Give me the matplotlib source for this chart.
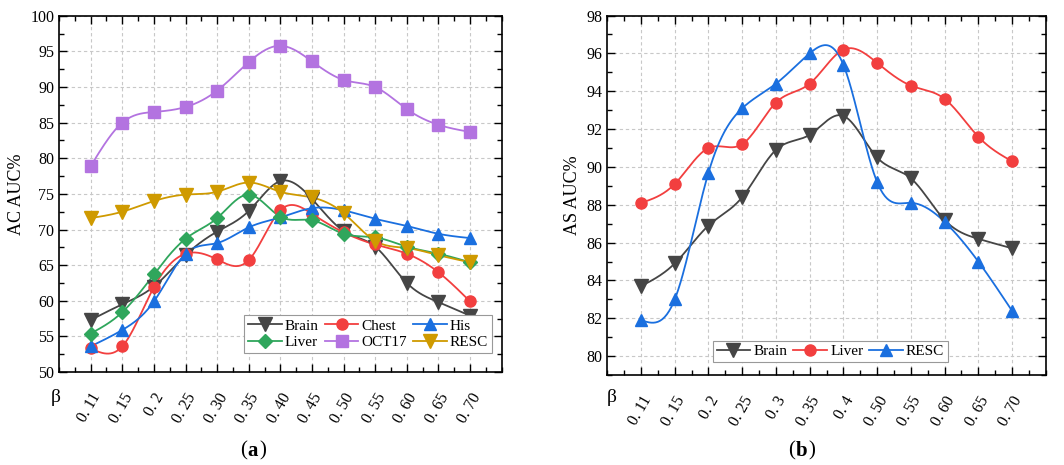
import numpy as np
import matplotlib.pyplot as plt
from matplotlib.ticker import MultipleLocator
from matplotlib.transforms import ScaledTranslation

plt.rcParams['font.family'] = ['Liberation Serif', 'DejaVu Serif']

# ---- panel (a) data ----
beta_a = ["0. 11", "0. 15", "0. 2", "0. 25", "0. 30", "0. 35", "0. 40",
          "0. 45", "0. 50", "0. 55", "0. 60", "0. 65", "0. 70"]
brain_a = [57.3, 59.5, 62.0, 66.4, 69.7, 72.6, 76.8, 74.3, 69.8, 67.6, 62.5, 59.8, 57.9]
chest_a = [53.3, 53.6, 61.9, 66.6, 65.8, 65.7, 72.7, 72.2, 69.6, 67.9, 66.6, 64.0, 59.9]
his_a = [53.6, 55.9, 59.9, 66.6, 68.1, 70.3, 71.7, 73.0, 72.7, 71.5, 70.5, 69.4, 68.8]
liver_a = [55.4, 58.4, 63.7, 68.7, 71.6, 74.9, 71.8, 71.3, 69.4, 68.9, 67.6, 66.6, 65.4]
oct17_a = [78.9, 85.0, 86.5, 87.2, 89.5, 93.5, 95.8, 93.6, 91.0, 90.0, 86.9, 84.7, 83.7]
resc_a = [71.6, 72.5, 74.0, 74.9, 75.3, 76.6, 75.3, 74.5, 72.3, 68.4, 67.4, 66.4, 65.4]

# ---- panel (b) data ----
beta_b = ["0. 11", "0. 15", "0. 2", "0. 25", "0. 3", "0. 35", "0. 4",
          "0. 50", "0. 55", "0. 60", "0. 65", "0. 70"]
brain_b = [83.7, 84.9, 86.9, 88.4, 90.9, 91.7, 92.7, 90.5, 89.4, 87.2, 86.2, 85.7]
liver_b = [88.1, 89.1, 91.0, 91.2, 93.4, 94.4, 96.2, 95.5, 94.3, 93.6, 91.6, 90.3]
resc_b = [81.9, 83.0, 89.7, 93.1, 94.4, 96.0, 95.4, 89.2, 88.1, 87.1, 85.0, 82.4]

GRAY = '#454545'
RED = '#f23f3f'
BLUE = '#1a6fdf'
GREEN = '#2fa65c'
PURPLE = '#b373e0'
GOLD = '#cf9a00'


def spline(y, n=30):
    # natural cubic spline through the points, for the smooth line
    y = np.asarray(y, float)
    x = np.arange(len(y), dtype=float)
    m = len(y)
    A = np.zeros((m, m))
    r = np.zeros(m)
    A[0, 0] = A[-1, -1] = 1
    for i in range(1, m - 1):
        A[i, i - 1], A[i, i], A[i, i + 1] = 1, 4, 1
        r[i] = 6 * (y[i + 1] - 2 * y[i] + y[i - 1])
    M = np.linalg.solve(A, r)
    xs, ys = [], []
    for i in range(m - 1):
        t = np.linspace(0, 1, n, endpoint=False)
        yy = (M[i] * (1 - t) ** 3 + M[i + 1] * t ** 3) / 6 \
            + (y[i] - M[i] / 6) * (1 - t) + (y[i + 1] - M[i + 1] / 6) * t
        xs.append(x[i] + t)
        ys.append(yy)
    xs.append([x[-1]])
    ys.append([y[-1]])
    return np.concatenate(xs), np.concatenate(ys)


def draw(ax, y, color, marker, label, ms=9.5):
    xs, ys = spline(y)
    ax.plot(xs, ys, color=color, lw=1.3, zorder=2)
    ax.plot(np.arange(len(y)), y, ls='none', marker=marker, ms=ms,
            color=color, zorder=3)
    return ax.plot([], [], color=color, lw=1.3, marker=marker, ms=ms, label=label)[0]


def style(ax, labels, ylabel):
    ax.set_xticks(range(len(labels)))
    ax.set_xticklabels(labels, rotation=60, ha='right', rotation_mode='anchor',
                       fontsize=11.5)
    off = ScaledTranslation(5 / 100, 0, fig.dpi_scale_trans)
    for lab in ax.get_xticklabels():
        lab.set_transform(lab.get_transform() + off)
    ax.xaxis.set_minor_locator(MultipleLocator(0.5))
    ax.tick_params(which='both', direction='in', top=True, right=True)
    ax.tick_params(which='major', length=6, width=1, labelsize=11.5)
    ax.tick_params(which='minor', length=3.5, width=1)
    ax.tick_params(axis='x', which='major', pad=13)
    ax.grid(True, which='major', ls=(0, (3, 2.5)), color='#c8c8c8', lw=0.8)
    ax.set_axisbelow(True)
    for s in ax.spines.values():
        s.set_linewidth(1.2)
    ax.set_ylabel(ylabel, fontsize=13, labelpad=4)


fig = plt.figure(figsize=(10.64, 4.65), dpi=100)

# panel (a)
ax1 = fig.add_axes([0.0555, 0.2, 0.416, 0.766])
h_brain = draw(ax1, brain_a, GRAY, 'v', 'Brain')
h_chest = draw(ax1, chest_a, RED, 'o', 'Chest', ms=8)
h_his = draw(ax1, his_a, BLUE, '^', 'His', ms=9)
h_liver = draw(ax1, liver_a, GREEN, 'D', 'Liver', ms=7.5)
h_oct = draw(ax1, oct17_a, PURPLE, 's', 'OCT17', ms=8)
h_resc = draw(ax1, resc_a, GOLD, 'v', 'RESC')
ax1.set_xlim(-1, 13)
ax1.set_ylim(50, 100)
ax1.yaxis.set_major_locator(MultipleLocator(5))
ax1.yaxis.set_minor_locator(MultipleLocator(2.5))
style(ax1, beta_a, 'AC AUC%')
leg = ax1.legend(handles=[h_brain, h_liver, h_chest, h_oct, h_his, h_resc],
                 ncol=3, loc='lower right', bbox_to_anchor=(0.978, 0.053),
                 borderaxespad=0, fontsize=11, handlelength=2.2,
                 handletextpad=0.2, columnspacing=0.4, labelspacing=0.2,
                 borderpad=0.25, fancybox=False, framealpha=1,
                 edgecolor='#999999')
leg.get_frame().set_linewidth(0.8)
fig.text(0.052, 0.145, 'β', fontsize=14, ha='center', va='center')
fig.text(0.2325, 0.03, '(', fontsize=15, ha='right', va='center')
fig.text(0.2325, 0.03, 'a', fontsize=15, ha='left', va='center', weight='bold')
fig.text(0.244, 0.03, ')', fontsize=15, ha='left', va='center')

# panel (b)
ax2 = fig.add_axes([0.5708, 0.1935, 0.412, 0.773])
g_brain = draw(ax2, brain_b, GRAY, 'v', 'Brain')
g_liver = draw(ax2, liver_b, RED, 'o', 'Liver', ms=8)
g_resc = draw(ax2, resc_b, BLUE, '^', 'RESC', ms=9)
ax2.set_xlim(-1, 12)
ax2.set_ylim(79, 98)
ax2.yaxis.set_major_locator(MultipleLocator(2))
ax2.yaxis.set_minor_locator(MultipleLocator(1))
style(ax2, beta_b, 'AS AUC%')
leg2 = ax2.legend(handles=[g_brain, g_liver, g_resc], ncol=3, loc='lower center',
                  bbox_to_anchor=(0.509, 0.036), borderaxespad=0, fontsize=11,
                  handlelength=2.2, handletextpad=0.2, columnspacing=0.4,
                  borderpad=0.25, fancybox=False, framealpha=1,
                  edgecolor='#999999')
leg2.get_frame().set_linewidth(0.8)
fig.text(0.575, 0.145, 'β', fontsize=14, ha='center', va='center')
fig.text(0.7475, 0.03, '(', fontsize=15, ha='right', va='center')
fig.text(0.7475, 0.03, 'b', fontsize=15, ha='left', va='center', weight='bold')
fig.text(0.76, 0.03, ')', fontsize=15, ha='left', va='center')

fig.savefig('out.png', dpi=100)
